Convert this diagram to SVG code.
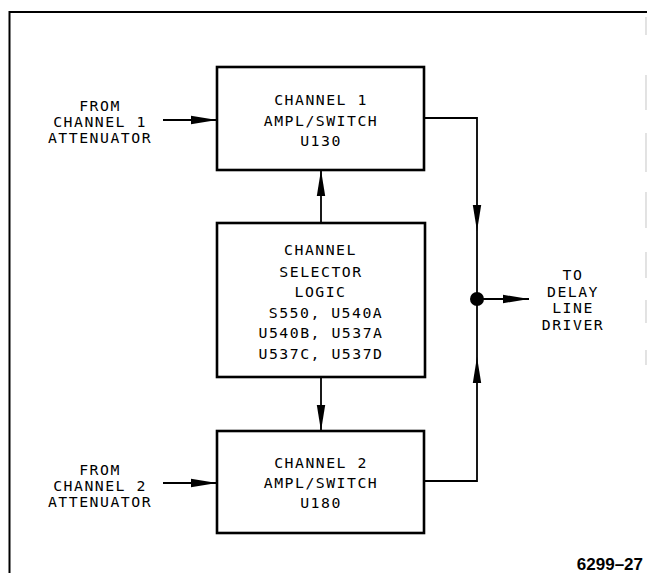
<svg xmlns="http://www.w3.org/2000/svg" width="647" height="573" viewBox="0 0 647 573">
<style>
.frame{fill:none;stroke:#000;stroke-width:2}
.tick{fill:none;stroke:#d0d0d0;stroke-width:1.2}
.box{fill:#fff;stroke:#000;stroke-width:2.6}
.wire{fill:none;stroke:#000;stroke-width:1.8}
.t{font-family:"DejaVu Sans Mono","Liberation Mono",monospace;font-size:14.8px;letter-spacing:1.5px;fill:#000;text-anchor:middle}
.fig{font-family:"Liberation Sans",Arial,sans-serif;font-size:17px;font-weight:bold;fill:#000;text-anchor:end}
</style>
<defs>
<marker id="ah" viewBox="0 0 26 10" refX="26" refY="5" markerWidth="26" markerHeight="10" markerUnits="userSpaceOnUse" orient="auto">
<path d="M0,0.8 L26,5 L0,9.2 Z" fill="#000"/>
</marker>
</defs>
<rect width="647" height="573" fill="#fff"/>
<g id="frame">
<path class="frame" d="M9.5,573 V12 H647"/>
<path class="tick" d="M646,17 V35 M646,75 V110 M646,133 V172 M646,192 V228 M646,252 V278 M646,300 V323 M646,350 V365"/>
</g>
<g id="connectors">
<path class="wire" d="M163,120 H217" marker-end="url(#ah)"/>
<path class="wire" d="M163,483 H217" marker-end="url(#ah)"/>
<path class="wire" d="M321,223 V170" marker-end="url(#ah)"/>
<path class="wire" d="M321,377 V431" marker-end="url(#ah)"/>
<path class="wire" d="M424,118 H477 V231" marker-end="url(#ah)"/>
<path class="wire" d="M477,231 V299"/>
<path class="wire" d="M424,481 H477 V357" marker-end="url(#ah)"/>
<path class="wire" d="M477,357 V299"/>
<path class="wire" d="M477,299 H529" marker-end="url(#ah)"/>
<circle cx="477" cy="299" r="7" fill="#000"/>
</g>
<g id="in1">
<text class="t" x="100" y="111">FROM</text>
<text class="t" x="100" y="127">CHANNEL 1</text>
<text class="t" x="100" y="143">ATTENUATOR</text>
</g>
<g id="in2">
<text class="t" x="100" y="475">FROM</text>
<text class="t" x="100" y="491">CHANNEL 2</text>
<text class="t" x="100" y="507">ATTENUATOR</text>
</g>
<g id="ch1">
<rect class="box" x="217" y="67" width="207" height="103"/>
<text class="t" x="321" y="105">CHANNEL 1</text>
<text class="t" x="321" y="126">AMPL/SWITCH</text>
<text class="t" x="321" y="146">U130</text>
</g>
<g id="selector">
<rect class="box" x="217" y="223" width="208" height="154"/>
<text class="t" x="320.5" y="255">CHANNEL</text>
<text class="t" x="321" y="277">SELECTOR</text>
<text class="t" x="320.5" y="297">LOGIC</text>
<text class="t" x="326" y="318">S550, U540A</text>
<text class="t" x="321" y="338">U540B, U537A</text>
<text class="t" x="321" y="359">U537C, U537D</text>
</g>
<g id="ch2">
<rect class="box" x="217" y="431" width="207" height="102"/>
<text class="t" x="321" y="468">CHANNEL 2</text>
<text class="t" x="321" y="488">AMPL/SWITCH</text>
<text class="t" x="321" y="508">U180</text>
</g>
<g id="out">
<text class="t" x="573" y="280">TO</text>
<text class="t" x="573" y="297">DELAY</text>
<text class="t" x="573" y="313">LINE</text>
<text class="t" x="573" y="330">DRIVER</text>
</g>
<text class="fig" x="643" y="570">6299–27</text>
</svg>
